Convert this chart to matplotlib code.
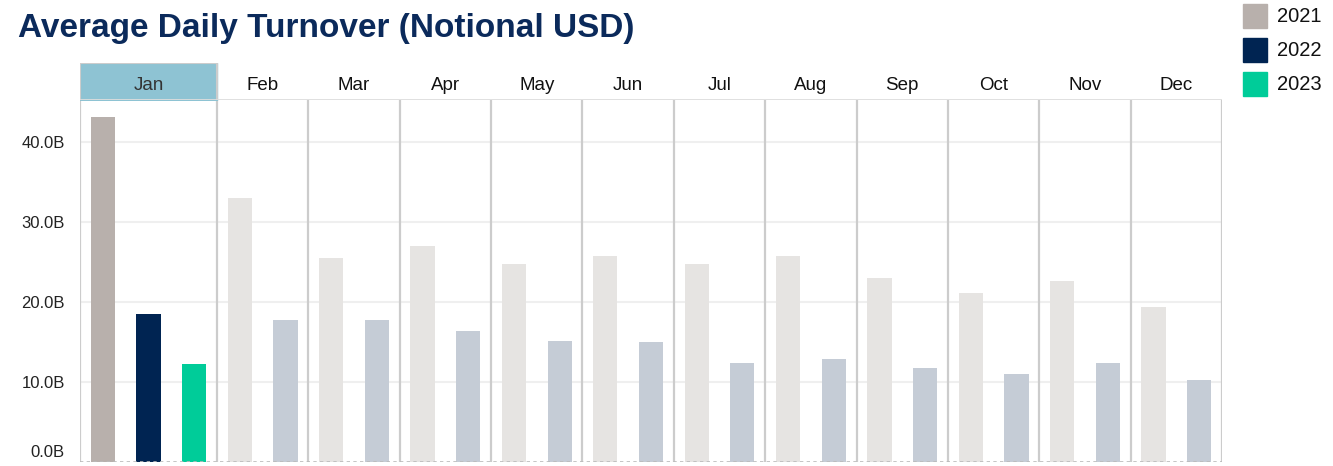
import numpy as np
import matplotlib.pyplot as plt
import matplotlib.transforms as mtransforms

plt.rcParams['font.family'] = ['Liberation Sans', 'DejaVu Sans']

months = ['Jan', 'Feb', 'Mar', 'Apr', 'May', 'Jun', 'Jul', 'Aug', 'Sep', 'Oct', 'Nov', 'Dec']
years = ['2021', '2022', '2023']
# billions USD
adt_2021 = [43.1, 33.0, 25.5, 27.0, 24.75, 25.75, 24.75, 25.75, 23.0, 21.1, 22.6, 19.4]
adt_2022 = [18.5, 17.75, 17.75, 16.4, 15.1, 15.0, 12.4, 12.9, 11.75, 11.0, 12.4, 10.25]
adt_2023 = [12.25]
yticks = [0, 10, 20, 30, 40]

colors = ['#b8b0ac', '#002452', '#00cc99']
faded = ['#e6e4e2', '#c5ccd6', '#bfeedd']
header_fill = '#8ec3d3'
sep = '#cccccc'

# slot layout: each month gets one slot per year with data
series = [adt_2021, adt_2022, adt_2023]
slots = []  # (x, month index, year index)
x = 0
bounds = []
for m in range(len(months)):
    start = x
    for s in range(len(series)):
        if m < len(series[s]):
            slots.append((x, m, s))
            x += 1
    bounds.append((start - 0.5, x - 0.5))
nslots = x

W, H = 1333, 466
fig = plt.figure(figsize=(W / 100, H / 100), dpi=100)
left, right = 80 / W, 1222 / W
ax = fig.add_axes([left, 4 / H, right - left, (462 - 100) / H])
hx = fig.add_axes([left, (466 - 100) / H, right - left, 37 / H])

for xs, m, s in slots:
    c = colors[s] if m == 0 else faded[s]
    ax.bar(xs, series[s][m], width=0.53, color=c, zorder=3)

ax.set_xlim(-0.5, nslots - 0.5)
ax.set_ylim(0, 45.25)
ax.set_yticks(yticks)
ax.set_yticklabels([f'{v:.1f}B' for v in yticks], fontsize=12, color='#222222')
ax.set_xticks([])
ax.tick_params(axis='y', length=0, pad=11)
# bottom label sits a little above the baseline
lab0 = ax.get_yticklabels()[0]
lab0.set_transform(lab0.get_transform() + mtransforms.ScaledTranslation(0, 0.11, fig.dpi_scale_trans))
for v in yticks[1:]:
    ax.axhline(v, color='#efefef', lw=1.5, zorder=1)
for sp in ax.spines.values():
    sp.set_visible(False)
for b0, b1 in bounds:
    ax.axvline(b0, color=sep, lw=1.6, zorder=2)
ax.axvline(bounds[-1][1], color=sep, lw=1.6, zorder=2)
ax.axhline(0, color='#bbbbbb', lw=1.2, ls=(0, (2, 2)), zorder=4)

# month header row
hx.set_xlim(-0.5, nslots - 0.5)
hx.set_ylim(0, 1)
hx.axis('off')
for m, (b0, b1) in enumerate(bounds):
    if m == 0:
        hx.fill_between([b0, b1], 0, 1, color=header_fill, zorder=1)
        hx.plot([b0, b0, b1, b1], [0, 1, 1, 0], color=sep, lw=1.5, zorder=2)
    hx.text((b0 + b1) / 2, 0.4, months[m], ha='center', va='center',
            fontsize=13.5, color='#333333' if m == 0 else '#111111')
hx.axhline(0, color='#dddddd', lw=2, zorder=2)

fig.text(18 / W, 1 - 28 / H, 'Average Daily Turnover (Notional USD)', fontsize=24,
         fontweight='bold', color='#0b2a5b', va='center', ha='left')

# legend
for i, yr in enumerate(years):
    yc = 16 + 34 * i
    fig.patches.append(plt.Rectangle((1243 / W, 1 - (yc + 12) / H), 24 / W, 24 / H,
                                     transform=fig.transFigure, color=colors[i], figure=fig))
    fig.text(1277 / W, 1 - yc / H, yr, fontsize=14.5, color='#111111', va='center', ha='left')

fig.savefig('out.png', dpi=100)
